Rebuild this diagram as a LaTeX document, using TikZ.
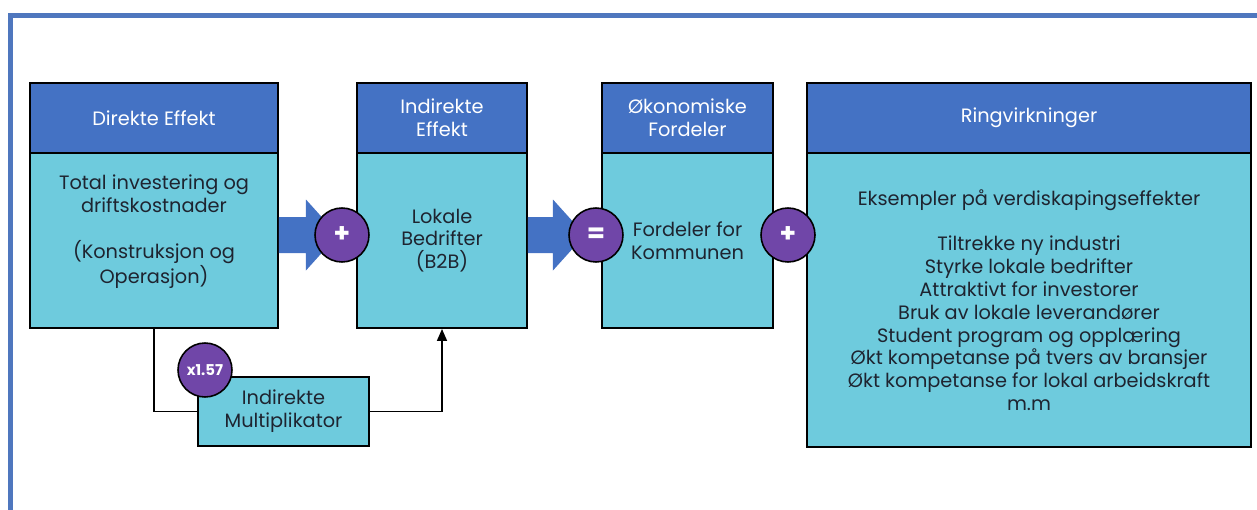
\documentclass[tikz,border=0pt]{standalone}
\usepackage{fontspec}
\setmainfont{Poppins}
\usetikzlibrary{arrows.meta}
\definecolor{frameblue}{RGB}{79,119,190}
\definecolor{headblue}{RGB}{68,114,196}
\definecolor{bodycyan}{RGB}{110,203,221}
\definecolor{oppurple}{RGB}{112,70,168}
\definecolor{textdark}{RGB}{30,36,48}

\begin{document}
\begin{tikzpicture}[x=0.02cm, y=-0.02cm,
    head/.style={draw=black, fill=headblue, line width=1.1pt, text=white, align=center,
                 inner sep=0pt, minimum height=1.4cm, font=\fontsize{11}{13}\selectfont},
    body/.style={draw=black, fill=bodycyan, line width=1.1pt, text=textdark, align=center,
                 inner sep=0pt, font=\fontsize{11}{13}\selectfont},
    op/.style={circle, draw=black, fill=oppurple, line width=0.9pt, text=white,
               minimum size=1.08cm, inner sep=0pt, font=\bfseries\fontsize{15}{15}\selectfont},
    bigarrow/.style={fill=headblue},
    link/.style={line width=0.9pt, color=black}
]
\useasboundingbox (0,0) rectangle (1257,510);
\draw[frameblue, line width=0.1cm] (10.5,510) -- (10.5,15.5) -- (1257,15.5);

\node[head, minimum width=4.96cm] (direktehead) at (154,118) {Direkte Effekt};
\node[body, minimum width=4.96cm, minimum height=3.5cm] (direktebody) at (154,240.5)
    {Total investering og\\driftskostnader\\ \\(Konstruksjon og\\Operasjon)\\ \mbox{}};
\node[head, minimum width=3.4cm] (indirektehead) at (442,118) {Indirekte\\Effekt};
\node[body, minimum width=3.4cm, minimum height=3.5cm] (lokalebody) at (442,240.5)
    {Lokale\\Bedrifter\\(B2B)};
\node[head, minimum width=3.42cm] (fordelhead) at (687.5,118) {Økonomiske\\Fordeler};
\node[body, minimum width=3.42cm, minimum height=3.5cm] (fordelbody) at (687.5,240.5)
    {Fordeler for\\Kommunen};
\node[head, minimum width=8.88cm] (ringhead) at (1029,118) {Ringvirkninger};
\node[body, minimum width=8.88cm, minimum height=5.88cm] (ringbody) at (1029,300)
    {Eksempler på verdiskapingseffekter\\ \\Tiltrekke ny industri\\Styrke lokale bedrifter\\
     Attraktivt for investorer\\Bruk av lokale leverandører\\Student program og opplæring\\
     Økt kompetanse på tvers av bransjer\\Økt kompetanse for lokal arbeidskraft\\m.m};
\node[body, minimum width=3.42cm, minimum height=1.38cm] (multi) at (283.5,411.5)
    {Indirekte\\Multiplikator};

\draw[link] (direktebody.south) |- (multi.west);
\draw[link, -{Triangle[length=0.24cm, width=0.2cm]}] (multi.east) -| (lokalebody.south);

\coordinate (plusA) at (342,235);
\coordinate (likhet) at (596,235);
\fill[bigarrow] (direktebody.east |- plusA) ++(0,-18) -- ++(27,0) -- ++(0,-17.5)
    -- ++(32,35.5) -- ++(-32,35.5) -- ++(0,-17.5) -- ++(-27,0) -- cycle;
\fill[bigarrow] (lokalebody.east |- likhet) ++(0,-18) -- ++(25,0) -- ++(0,-17.5)
    -- ++(32,35.5) -- ++(-32,35.5) -- ++(0,-17.5) -- ++(-25,0) -- cycle;
\node[op] (plusAop) at (plusA) {+};
\node[op] (likhetop) at (likhet) {=};
\node[op] (plusB) at (788,235) {+};
\node[op, font=\bfseries\fontsize{8.5}{9}\selectfont] (faktor) at (205,370) {x1.57};
\end{tikzpicture}
\end{document}
